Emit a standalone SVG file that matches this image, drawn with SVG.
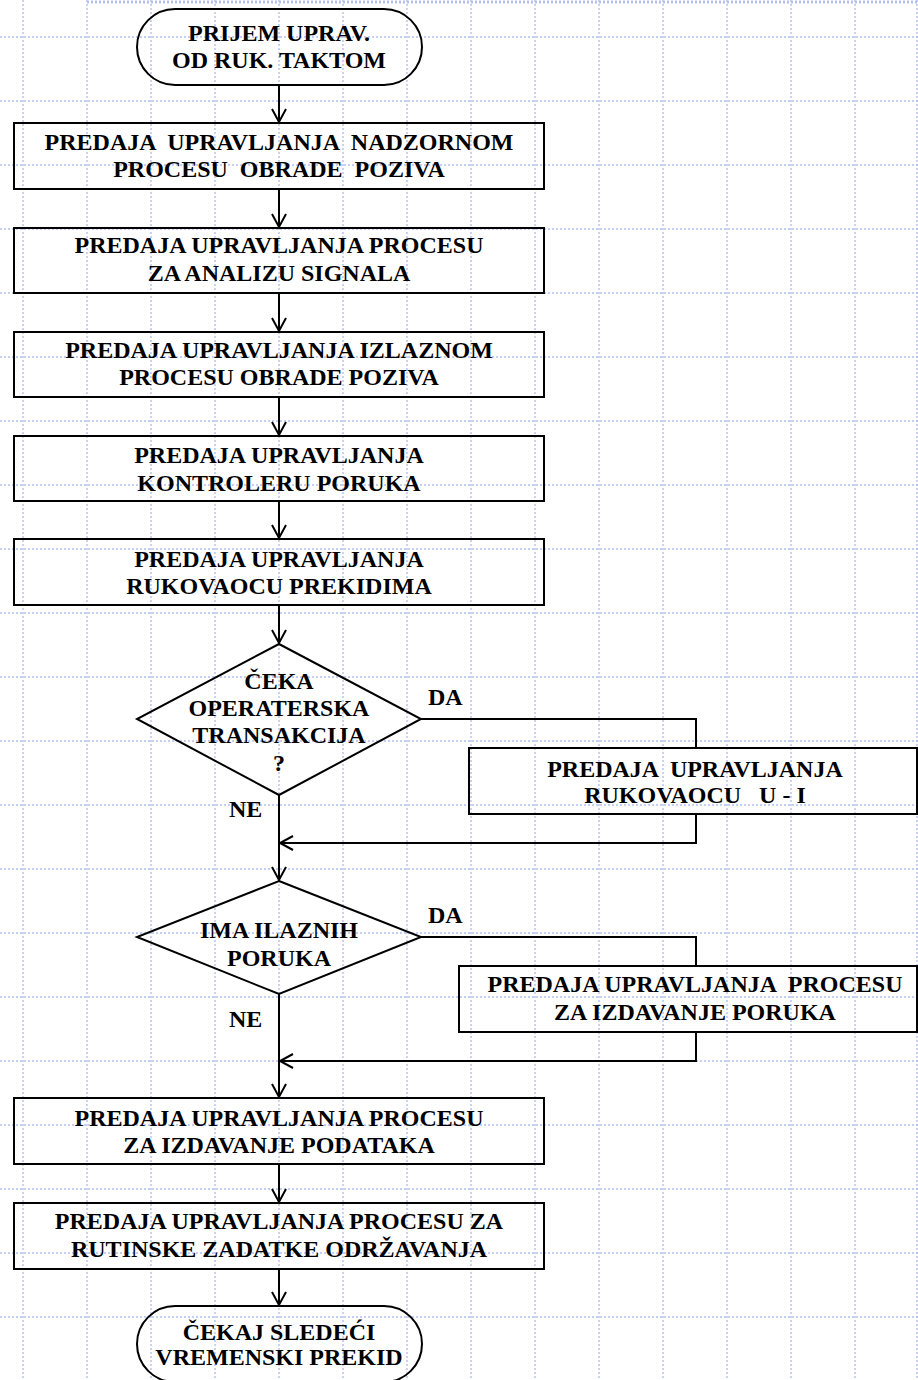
<svg xmlns="http://www.w3.org/2000/svg" width="918" height="1380" viewBox="0 0 918 1380">
<style>
.grid line{stroke:#b4c0f0;stroke-width:1.4;stroke-dasharray:2 2}
.shape{fill:none;stroke:#000;stroke-width:2}
.con{fill:none;stroke:#000;stroke-width:2}
text{font-family:"Liberation Serif","Times New Roman",serif;font-weight:bold;font-size:24px;fill:#000;text-anchor:middle}
.lbl{text-anchor:start}
</style>
<defs>
<marker id="arr" markerUnits="userSpaceOnUse" markerWidth="20" markerHeight="20" viewBox="-14 -10 16 20" refX="0" refY="0" orient="auto">
<path d="M-13,-7 L0,0 L-13,7" fill="none" stroke="#000" stroke-width="2"/>
</marker>
</defs>
<rect x="0" y="0" width="918" height="1380" fill="#fff"/>
<g class="grid">
<line x1="87" y1="2" x2="918" y2="2" style="stroke-width:3"/>
<line x1="23" y1="0" x2="23" y2="1380"/>
<line x1="87" y1="0" x2="87" y2="1380"/>
<line x1="151" y1="0" x2="151" y2="1380"/>
<line x1="215" y1="0" x2="215" y2="1380"/>
<line x1="279" y1="0" x2="279" y2="1380"/>
<line x1="343" y1="0" x2="343" y2="1380"/>
<line x1="407" y1="0" x2="407" y2="1380"/>
<line x1="471" y1="0" x2="471" y2="1380"/>
<line x1="535" y1="0" x2="535" y2="1380"/>
<line x1="599" y1="0" x2="599" y2="1380"/>
<line x1="663" y1="0" x2="663" y2="1380"/>
<line x1="727" y1="0" x2="727" y2="1380"/>
<line x1="791" y1="0" x2="791" y2="1380"/>
<line x1="855" y1="0" x2="855" y2="1380"/>
<line x1="917" y1="0" x2="917" y2="1380"/>
<line x1="0" y1="37" x2="918" y2="37"/>
<line x1="0" y1="101" x2="918" y2="101"/>
<line x1="0" y1="165" x2="918" y2="165"/>
<line x1="0" y1="229" x2="918" y2="229"/>
<line x1="0" y1="293" x2="918" y2="293"/>
<line x1="0" y1="357" x2="918" y2="357"/>
<line x1="0" y1="421" x2="918" y2="421"/>
<line x1="0" y1="485" x2="918" y2="485"/>
<line x1="0" y1="549" x2="918" y2="549"/>
<line x1="0" y1="613" x2="918" y2="613"/>
<line x1="0" y1="677" x2="918" y2="677"/>
<line x1="0" y1="741" x2="918" y2="741"/>
<line x1="0" y1="805" x2="918" y2="805"/>
<line x1="0" y1="869" x2="918" y2="869"/>
<line x1="0" y1="933" x2="918" y2="933"/>
<line x1="0" y1="997" x2="918" y2="997"/>
<line x1="0" y1="1061" x2="918" y2="1061"/>
<line x1="0" y1="1125" x2="918" y2="1125"/>
<line x1="0" y1="1189" x2="918" y2="1189"/>
<line x1="0" y1="1253" x2="918" y2="1253"/>
<line x1="0" y1="1317" x2="918" y2="1317"/>
</g>
<g id="connectors">
<path class="con" d="M279,85 V122" marker-end="url(#arr)"/>
<path class="con" d="M279,189 V227" marker-end="url(#arr)"/>
<path class="con" d="M279,293 V331" marker-end="url(#arr)"/>
<path class="con" d="M279,397 V435" marker-end="url(#arr)"/>
<path class="con" d="M279,501 V538" marker-end="url(#arr)"/>
<path class="con" d="M279,605 V643" marker-end="url(#arr)"/>
<path class="con" d="M421,719 H696 V748"/>
<path class="con" d="M696,814 V843 H280" marker-end="url(#arr)"/>
<path class="con" d="M279,795 V880" marker-end="url(#arr)"/>
<path class="con" d="M421,937 H696 V966"/>
<path class="con" d="M696,1032 V1061 H280" marker-end="url(#arr)"/>
<path class="con" d="M279,994 V1097" marker-end="url(#arr)"/>
<path class="con" d="M279,1164 V1202" marker-end="url(#arr)"/>
<path class="con" d="M279,1269 V1305" marker-end="url(#arr)"/>
</g>
<g id="start">
<rect class="shape" x="137" y="9" width="285" height="76" rx="38" ry="38"/>
<text x="279" y="41">PRIJEM UPRAV.</text>
<text x="279" y="68">OD RUK. TAKTOM</text>
</g>
<g id="b2">
<rect class="shape" x="14" y="123" width="530" height="66"/>
<text x="279" y="150" xml:space="preserve">PREDAJA  UPRAVLJANJA  NADZORNOM</text>
<text x="279" y="177" xml:space="preserve">PROCESU  OBRADE  POZIVA</text>
</g>
<g id="b3">
<rect class="shape" x="14" y="228" width="530" height="65"/>
<text x="279" y="253">PREDAJA UPRAVLJANJA PROCESU</text>
<text x="279" y="281">ZA ANALIZU SIGNALA</text>
</g>
<g id="b4">
<rect class="shape" x="14" y="332" width="530" height="65"/>
<text x="279" y="358">PREDAJA UPRAVLJANJA IZLAZNOM</text>
<text x="279" y="385">PROCESU OBRADE POZIVA</text>
</g>
<g id="b5">
<rect class="shape" x="14" y="436" width="530" height="65"/>
<text x="279" y="463">PREDAJA UPRAVLJANJA</text>
<text x="279" y="491">KONTROLERU PORUKA</text>
</g>
<g id="b6">
<rect class="shape" x="14" y="539" width="530" height="66"/>
<text x="279" y="567">PREDAJA UPRAVLJANJA</text>
<text x="279" y="594">RUKOVAOCU PREKIDIMA</text>
</g>
<g id="d1">
<polygon class="shape" points="279,644 421,719 279,795 137,719"/>
<text x="279" y="689">ČEKA</text>
<text x="279" y="716">OPERATERSKA</text>
<text x="279" y="743">TRANSAKCIJA</text>
<text x="279" y="771">?</text>
<text class="lbl" x="428" y="705">DA</text>
<text class="lbl" x="229" y="817">NE</text>
</g>
<g id="side1">
<rect class="shape" x="469" y="748" width="448" height="66"/>
<text x="695" y="777" xml:space="preserve">PREDAJA  UPRAVLJANJA</text>
<text x="695" y="803" xml:space="preserve">RUKOVAOCU   U - I</text>
</g>
<g id="d2">
<polygon class="shape" points="279,881 421,937 279,994 137,937"/>
<text x="279" y="938">IMA ILAZNIH</text>
<text x="279" y="966">PORUKA</text>
<text class="lbl" x="428" y="923">DA</text>
<text class="lbl" x="229" y="1027">NE</text>
</g>
<g id="side2">
<rect class="shape" x="459" y="966" width="458" height="66"/>
<text x="695" y="992" xml:space="preserve">PREDAJA UPRAVLJANJA  PROCESU</text>
<text x="695" y="1020">ZA IZDAVANJE PORUKA</text>
</g>
<g id="b7">
<rect class="shape" x="14" y="1098" width="530" height="66"/>
<text x="279" y="1126">PREDAJA UPRAVLJANJA PROCESU</text>
<text x="279" y="1153">ZA IZDAVANJE PODATAKA</text>
</g>
<g id="b8">
<rect class="shape" x="14" y="1203" width="530" height="66"/>
<text x="279" y="1229">PREDAJA UPRAVLJANJA PROCESU ZA</text>
<text x="279" y="1257">RUTINSKE ZADATKE ODRŽAVANJA</text>
</g>
<g id="end">
<rect class="shape" x="137" y="1306" width="285" height="76" rx="38" ry="38"/>
<text x="279" y="1340">ČEKAJ SLEDEĆI</text>
<text x="279" y="1365">VREMENSKI PREKID</text>
</g>
</svg>
